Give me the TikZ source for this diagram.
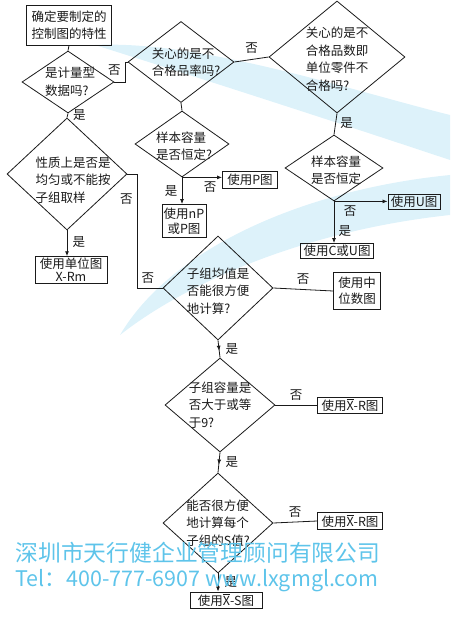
\documentclass[tikz,border=0pt]{standalone}
\usepackage{fontspec}
\setmainfont{Noto Sans CJK SC}
\usetikzlibrary{arrows.meta,shapes.geometric,decorations.markings}
\definecolor{Ink}{HTML}{1A1A1A}
\definecolor{Wmark}{HTML}{5EC4EA}
\definecolor{Swoosh}{HTML}{DDF2FA}

\begin{document}
\begin{tikzpicture}[x=1pt,y=-1pt,
    every node/.style={font=\fontsize{12.5}{17.5}\selectfont,text=Ink},
    box/.style={draw=Ink,line width=0.9pt,inner sep=1.5pt,align=center},
    dec/.style={diamond,draw=Ink,line width=0.8pt,inner sep=0pt},
    txt/.style={align=left,inner sep=0pt},
    line/.style={draw=Ink,line width=0.8pt},
    arr/.style={line,-{Latex[length=5pt,width=4pt]}},
    midarr/.style={line,postaction={decorate},
      decoration={markings,mark=at position 0.6 with {\arrow{Latex[length=5pt,width=4pt]}}}}
  ]
  \useasboundingbox (0,0) rectangle (450,617);
  % background swoosh
  \fill[Swoosh] (95,45) .. controls (200,40) and (350,90) .. (450,115) -- (450,160)
    .. controls (330,120) and (190,75) .. (95,45) -- cycle;
  \fill[Swoosh] (120,335) .. controls (170,250) and (300,190) .. (450,175) -- (450,215)
    .. controls (310,230) and (190,280) .. (120,335) -- cycle;

  % questions
  \node[box,minimum width=85,minimum height=40] (spec) at (69,25) {确定要制定的\\控制图的特性};
  \node[dec,minimum width=92,minimum height=62,
    label={[txt,xshift=2]center:{是计量型\\数据吗?}}] (qvar) at (68,82) {};
  \node[dec,minimum width=106,minimum height=81,
    label={[txt,xshift=5]center:{关心的是不\\合格品率吗?}}] (qrate) at (181,62) {};
  \node[dec,minimum width=136,minimum height=112,
    label={[txt,yshift=-2]center:{关心的是不\\合格品数即\\单位零件不\\合格吗?}}] (qdef) at (337,57) {};
  \node[dec,minimum width=98,minimum height=66,
    label={[txt,xshift=2,yshift=-2]center:{样本容量\\是否恒定}}] (qsize2) at (334,168) {};
  \node[dec,minimum width=120,minimum height=112,
    label={[txt,xshift=6,yshift=-6]center:{性质上是否是\\均匀或不能按\\子组取样}}] (qhomo) at (67,174) {};
  \node[dec,minimum width=94,minimum height=66,
    label={[txt,xshift=2,yshift=-2]center:{样本容量\\是否恒定?}}] (qsize1) at (182,144) {};
  \node[dec,minimum width=110,minimum height=104,
    label={[txt,yshift=-3]center:{子组均值是\\否能很方便\\地计算?}}] (qmean) at (218,288) {};
  \node[dec,minimum width=110,minimum height=94,
    label={[txt]center:{子组容量是\\否大于或等\\于9?}}] (qsub) at (220,405) {};
  \node[dec,minimum width=110,minimum height=100,
    label={[txt]center:{能否很方便\\地计算每个\\子组的S值?}}] (qsd) at (218,523) {};

  % chart boxes
  \node[box,minimum width=52,minimum height=15] (useU) at (414,202) {使用U图};
  \node[box,minimum width=73,minimum height=15] (useCU) at (337,251) {使用C或U图};
  \node[box,minimum width=72,minimum height=26,font=\fontsize{12.5}{13}\selectfont] (useRm) at (71,270) {使用单位图\\X-Rm};
  \node[box,minimum width=55,minimum height=17] (useP) at (250,180) {使用P图};
  \node[box,minimum width=44,minimum height=33,font=\fontsize{12.5}{15}\selectfont] (usenP) at (184,221) {使用nP\\或P图};
  \node[box,minimum width=47,minimum height=37,font=\fontsize{12.5}{16}\selectfont] (useMed) at (357,291) {使用中\\位数图};
  \node[box,minimum width=65,minimum height=16] (useXR1) at (350,405) {使用$\overline{\mbox{X}}$-R图};
  \node[box,minimum width=65,minimum height=17] (useXR2) at (350,521) {使用$\overline{\mbox{X}}$-R图};
  \node[box,minimum width=72,minimum height=16] (useXS) at (226,600) {使用$\overline{\mbox{X}}$-S图};

  % connectors
  \draw[line] (spec.south) -- (qvar.north);
  \draw[line] (qvar.east) -- ++(11,0) |- node[pos=0.3,left=1pt] {否} (qrate.west);
  \draw[line] (qrate.east) -- node[above=2pt] {否} (qdef.west);
  \draw[line] (qdef.south) -- node[right=1pt,pos=0.45] {是} (qsize2.north);
  \draw[arr] (qsize2.south) -- node[below=1pt,pos=0.3] {否} (qsize2.south -| useU.west);
  \draw[arr] (qsize2.south) -- node[right=1pt,pos=0.7] {是} (qsize2.south |- useCU.north);
  \draw[line] (qvar.south) -- node[right=2pt] {是} (qhomo.north);
  \draw[arr] (qhomo.south) -- node[right=2pt,pos=0.45] {是} (qhomo.south |- useRm.north);
  \draw[line] (qhomo.east) -- ++(10,0) |- node[pos=0.11,left=1pt] {否}
    node[pos=0.71,above=1pt] {否} (qmean.west);
  \draw[line] (qrate.south) -- (qsize1.north);
  \draw[arr] (qsize1.south) -- node[below=1pt,pos=0.7] {否} (qsize1.south -| useP.west);
  \draw[arr] (qsize1.south) -- node[left=1pt] {是} (qsize1.south |- usenP.north);
  \draw[line] (qmean.east) -- node[above=1pt] {否} (useMed.west);
  \draw[midarr] (qmean.south) -- node[right=3pt] {是} (qsub.north);
  \draw[line] (qsub.east) -- node[above=1pt] {否} (useXR1.west);
  \draw[midarr] (qsub.south) -- node[right=3pt] {是} (qsd.north);
  \draw[line] (qsd.east) -- node[above=1pt] {否} (useXR2.west);
  \draw[arr] (qsd.south) -- node[right=3pt] {是} (qsd.south |- useXS.north);

  % watermark
  \node[anchor=west,text=Wmark,font=\fontsize{22.8}{24}\selectfont] (wmname) at (12,553) {深圳市天行健企业管理顾问有限公司};
  \node[anchor=west,text=Wmark,font=\fontsize{21.5}{24}\selectfont] (wmtel) at (12,581) {Tel：400-777-6907 www.lxgmgl.com};
\end{tikzpicture}
\end{document}
